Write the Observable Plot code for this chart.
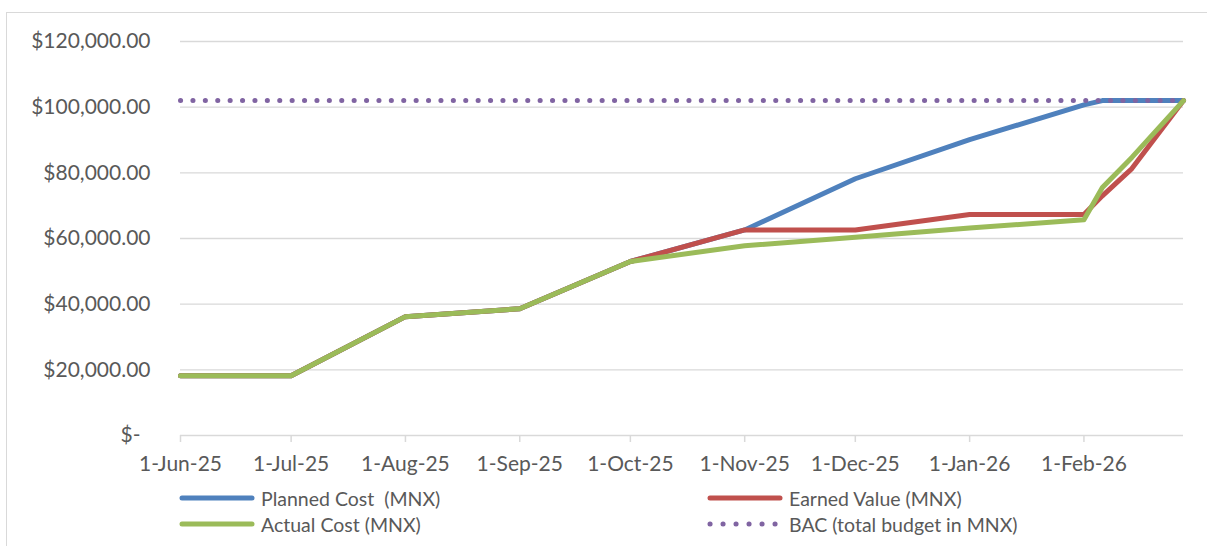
<!DOCTYPE html>
<html>
<head>
<meta charset="utf-8">
<script src="https://cdn.jsdelivr.net/npm/d3@7"></script>
<script src="https://cdn.jsdelivr.net/npm/@observablehq/plot@0.6"></script>
<style>
  html, body { margin: 0; padding: 0; background: #fff; }
  body { width: 1207px; height: 546px; overflow: hidden; font-family: Lato, "Open Sans", sans-serif; }
  #wrap { position: relative; width: 1207px; height: 546px; }
  #frame { position: absolute; left: 6px; top: 12px; width: 1220px; height: 560px; border: 1px solid #d9d9d9; box-sizing: border-box; }
  #chart { position: absolute; left: 0; top: 0; }
  .leg { position: absolute; display: flex; align-items: center; color: #595959; font-size: 19.5px; white-space: pre; }
  .leg svg { margin-right: 6px; }
</style>
</head>
<body>
<div id="wrap">
  <div id="frame"></div>
  <div id="chart"></div>
</div>
<script>
const dates = ["2025-06-01","2025-07-01","2025-08-01","2025-09-01","2025-10-01","2025-11-01","2025-12-01","2026-01-01","2026-02-01","2026-02-06","2026-02-14","2026-02-28"];
const plannedCost = [18200,18200,36200,38600,53000,62600,78200,90100,100700,102000,102000,102000];
const earnedValue = [18200,18200,36200,38600,53000,62600,62600,67300,67300,73000,81300,102000];
const actualCost  = [18200,18200,36200,38600,53000,57800,60400,63200,65700,75500,84700,102000];
const bac         = [102000,102000,102000,102000,102000,102000,102000,102000,102000,102000,102000,102000];

const seriesNames = ["Planned Cost  (MNX)", "Earned Value (MNX)", "Actual Cost (MNX)", "BAC (total budget in MNX)"];
const seriesColors = ["#4f81bd", "#c0504d", "#9bbb59", "#8064a2"];

const xTicks = ["2025-06-01","2025-07-01","2025-08-01","2025-09-01","2025-10-01","2025-11-01","2025-12-01","2026-01-01","2026-02-01"];
const yTicks = [0,20000,40000,60000,80000,100000,120000];
const xDomain = ["2025-06-01","2026-02-28"];

const parse = d3.utcParse("%Y-%m-%d");
const toRows = (vals) => dates.map((d, i) => ({date: parse(d), value: vals[i]}));
const rows = [plannedCost, earnedValue, actualCost, bac].map(toRows);

const money = d3.format("$,.2f");
const fmtDate = d3.utcFormat("%-d-%b-%y");

const lineOpts = (i) => ({x: "date", y: "value", stroke: seriesColors[i], strokeWidth: 5, strokeLinejoin: "round", strokeLinecap: "round", curve: "linear"});

const chart = Plot.plot({
  width: 1207,
  height: 480,
  marginLeft: 180,
  marginRight: 24,
  marginTop: 41,
  marginBottom: 45,
  style: {fontFamily: "Lato, 'Open Sans', sans-serif", fontSize: "21px", color: "#595959", background: "transparent", overflow: "visible"},
  x: {type: "utc", domain: xDomain.map(parse)},
  y: {domain: [0, 120000]},
  marks: [
    Plot.gridY(yTicks.filter(t => t > 0), {stroke: "#d9d9d9", strokeOpacity: 1, strokeWidth: 1.4}),
    Plot.ruleY([0], {stroke: "#d9d9d9", strokeWidth: 1.5}),
    Plot.axisY(yTicks.filter(t => t > 0), {tickSize: 0, tickPadding: 30, tickFormat: money, fill: "#595959", label: null}),
    Plot.axisY([0], {tickSize: 0, tickPadding: 40, tickFormat: () => "$-", fill: "#595959", label: null}),
    Plot.axisX(xTicks.map(parse), {tickSize: 7, tickPadding: 14, stroke: "#d9d9d9", strokeWidth: 1.5, fill: "#595959", tickFormat: fmtDate, label: null}),
    Plot.line(rows[0], lineOpts(0)),
    Plot.line(rows[1], lineOpts(1)),
    Plot.line(rows[2], lineOpts(2)),
    Plot.line(rows[3], {x: "date", y: "value", stroke: seriesColors[3], strokeWidth: 5, strokeLinecap: "round", strokeDasharray: "0.1 12.3"})
  ]
});
document.getElementById("chart").appendChild(chart);

// legend
const legendPos = [
  {i: 0, left: 179, top: 498},
  {i: 1, left: 707, top: 498},
  {i: 2, left: 179, top: 524},
  {i: 3, left: 707, top: 524}
];
const wrap = document.getElementById("wrap");
for (const p of legendPos) {
  const div = document.createElement("div");
  div.className = "leg";
  div.style.left = p.left + "px";
  div.style.top = (p.top - 13) + "px";
  div.style.height = "26px";
  const dotted = p.i === 3;
  div.innerHTML = `<svg width="76" height="10"><line x1="3" y1="5" x2="73" y2="5" stroke="${seriesColors[p.i]}" stroke-width="5" stroke-linecap="round" ${dotted ? 'stroke-dasharray="0.1 12.9"' : ''}/></svg><span>${seriesNames[p.i]}</span>`;
  wrap.appendChild(div);
}
</script>
</body>
</html>
